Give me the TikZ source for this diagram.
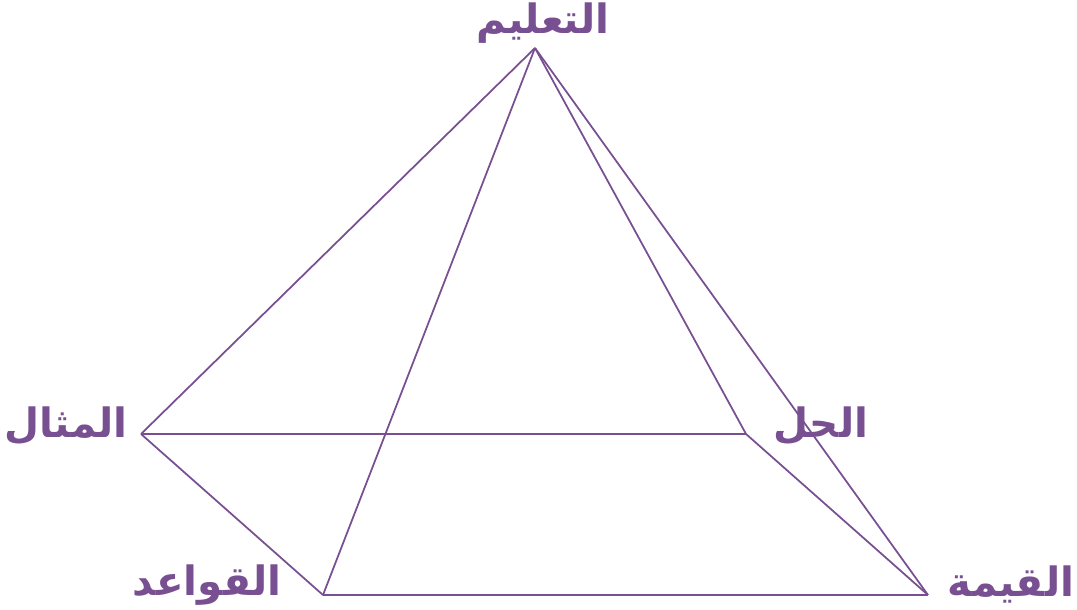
\documentclass[tikz,border=0pt]{standalone}
\usepackage{fontspec}
\usepackage{tikz}
\usetikzlibrary{positioning}
\TeXXeTstate=1
\newfontfamily\arabicfont[Script=Arabic]{DejaVu Sans Bold}
\definecolor{mypurple}{RGB}{120,80,145}
\tikzset{
  edge/.style={line width=1pt, color=mypurple},
  lbl/.style={font=\fontsize{23}{26}\selectfont\arabicfont, text=mypurple, inner sep=0pt}
}
\begin{document}
\begin{tikzpicture}
  \useasboundingbox (0,0) rectangle (21.54,12.18);

  % Corners
  \coordinate (apex) at (10.70,11.22);
  \coordinate (left) at (2.82,3.50);
  \coordinate (right) at (14.92,3.50);
  \coordinate (bleft) at (6.46,0.28);
  \coordinate (bright) at (18.56,0.28);

  % Edges
  \draw[edge] (apex) -- (left);
  \draw[edge] (apex) -- (bleft);
  \draw[edge] (apex) -- (right);
  \draw[edge] (apex) -- (bright);
  \draw[edge] (left) -- (right);
  \draw[edge] (left) -- (bleft);
  \draw[edge] (right) -- (bright);
  \draw[edge] (bleft) -- (bright);

  % Labels
  \node[lbl] (teach) at (10.86,11.71) {\beginR التعليم\endR};
  \node[lbl] (example) at (1.32,3.67) {\beginR المثال\endR};
  \node[lbl] (solution) at (16.42,3.67) {\beginR الحل\endR};
  \node[lbl] (rules) at (4.14,0.47) {\beginR القواعد\endR};
  \node[lbl] (value) at (20.22,0.49) {\beginR القيمة\endR};
\end{tikzpicture}
\end{document}
